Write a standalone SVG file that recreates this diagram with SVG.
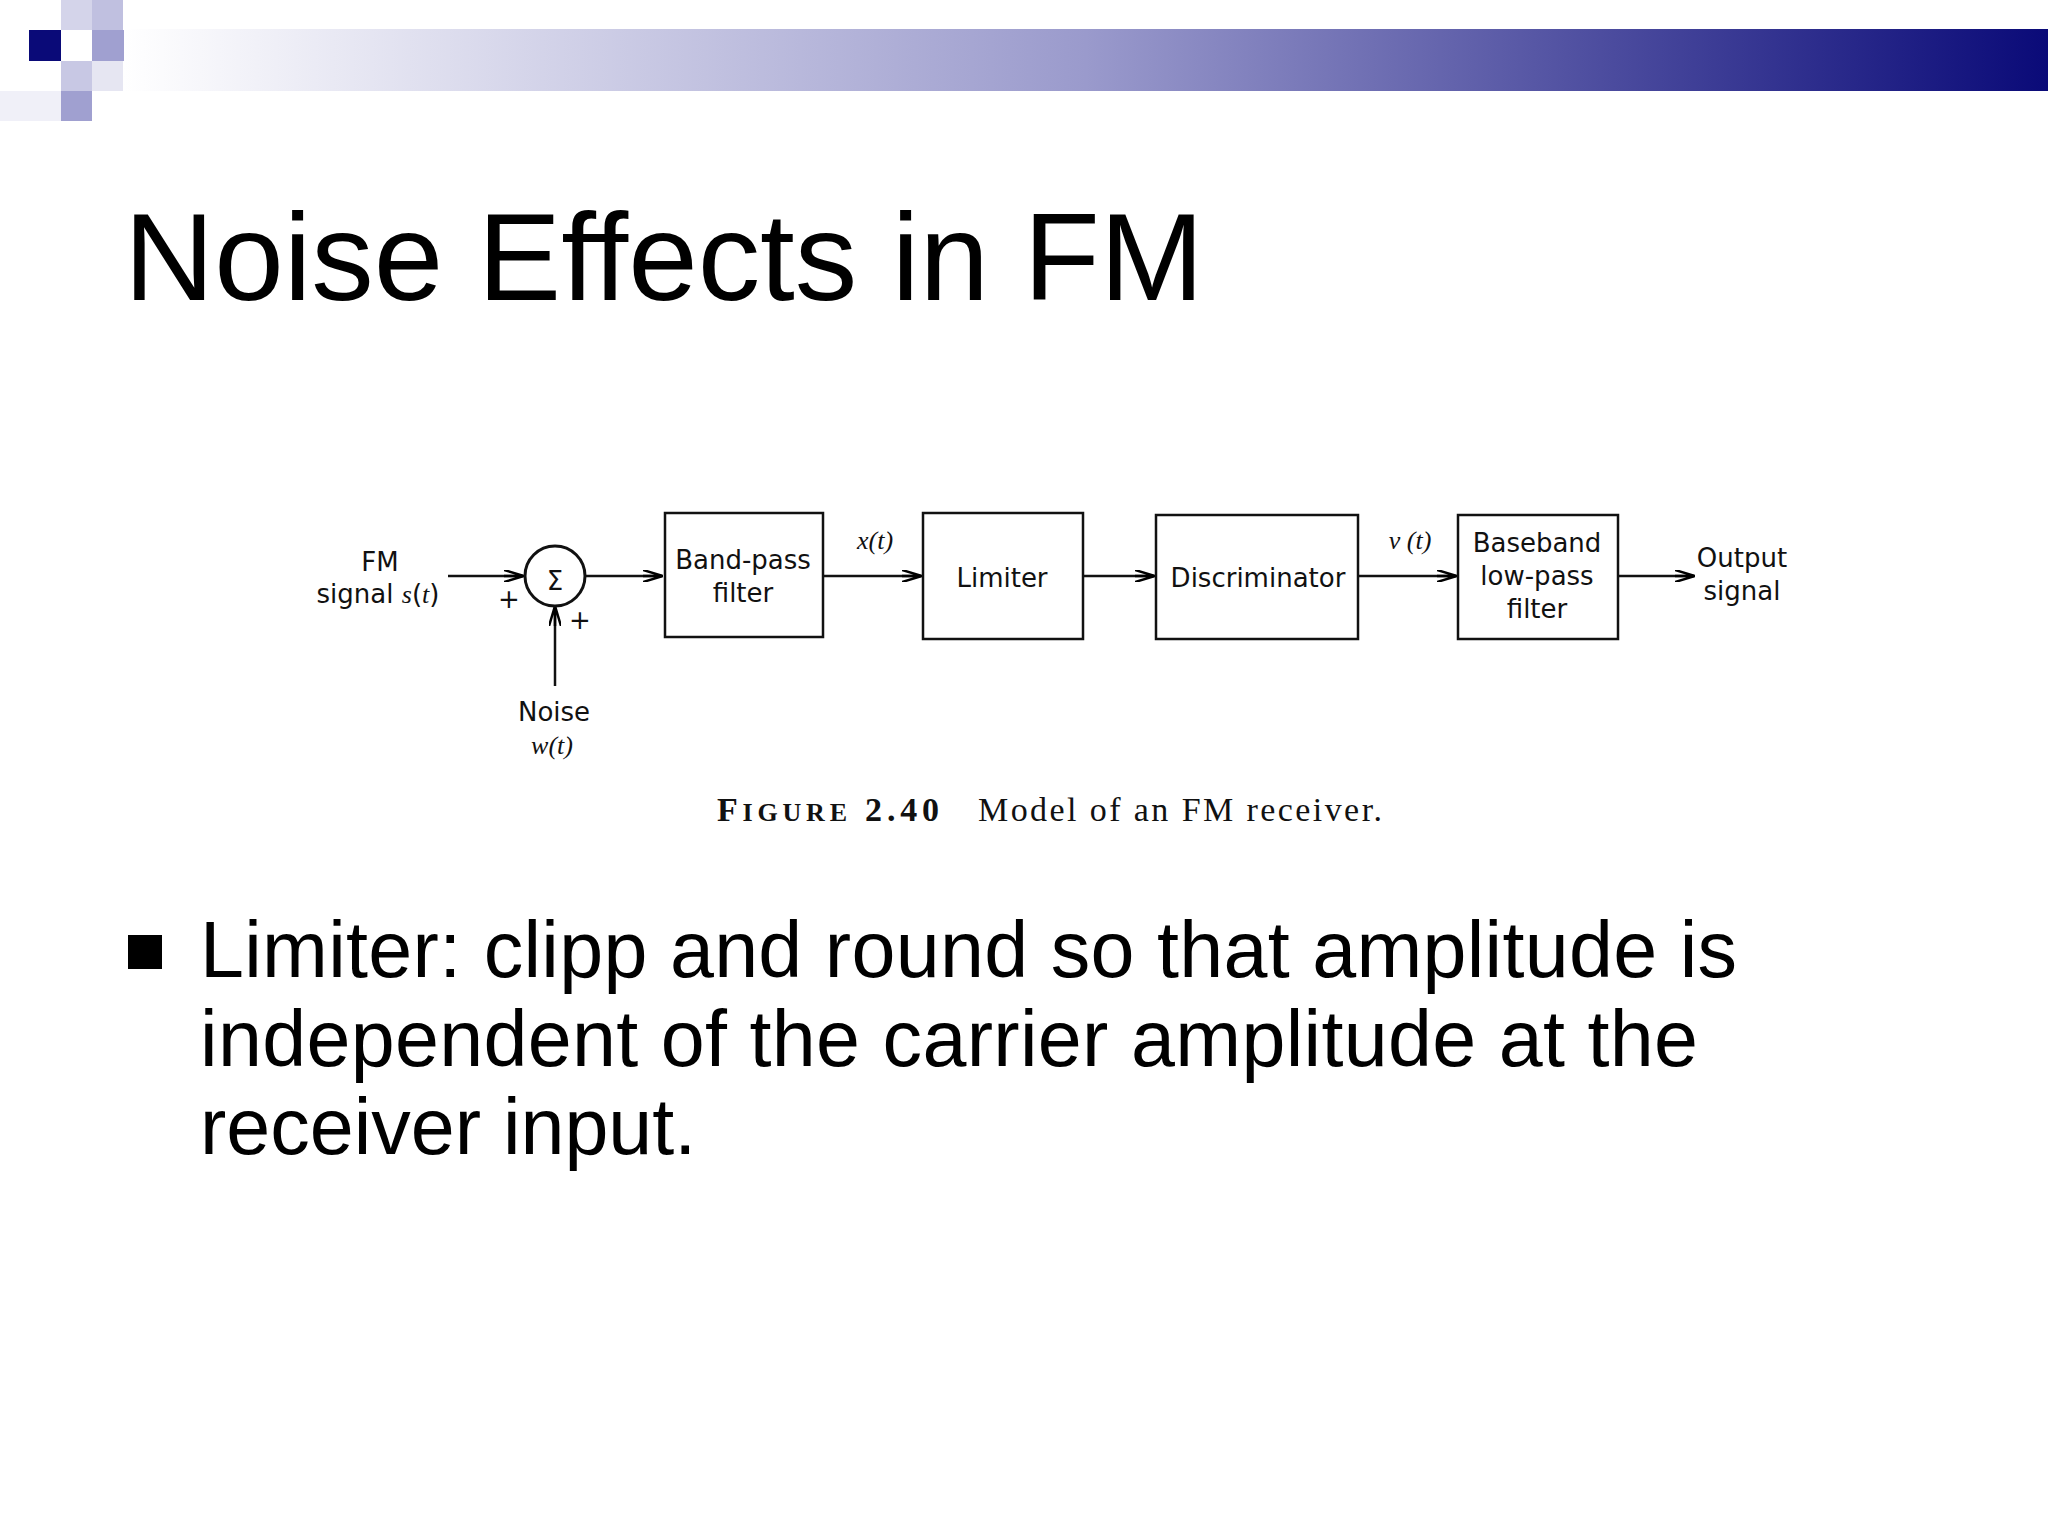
<svg xmlns="http://www.w3.org/2000/svg" width="2048" height="1536" viewBox="0 0 2048 1536">
<defs>
<linearGradient id="bar" x1="0" x2="1" y1="0" y2="0">
<stop offset="0" stop-color="#ffffff"/><stop offset="0.5" stop-color="#9a9acc"/><stop offset="1" stop-color="#0a0a78"/>
</linearGradient>
<marker id="ah" viewBox="0 0 20 12" refX="19" refY="6" markerWidth="20" markerHeight="12" markerUnits="userSpaceOnUse" orient="auto">
<path d="M0,0 L20,6 L0,12 M0,6 L20,6" fill="none" stroke="#000" stroke-width="2.5"/>
</marker>
<style>
.d{font-family:"DejaVu Sans","Liberation Sans",sans-serif;font-size:26px;text-anchor:middle;fill:#111}
.i{font-family:"Liberation Serif",serif;font-style:italic}
.box{fill:#fff;stroke:#111;stroke-width:2.5}
.ln{stroke:#111;stroke-width:2.5;fill:none;marker-end:url(#ah)}
</style>
</defs>
<rect width="2048" height="1536" fill="#fff"/>
<rect x="124" y="29" width="1924" height="62" fill="url(#bar)"/>
<g>
<rect x="61" y="0" width="31" height="30" fill="#d4d4ea"/>
<rect x="92" y="0" width="31" height="30" fill="#c0c0e0"/>
<rect x="29" y="30" width="32" height="31" fill="#0a0a78"/>
<rect x="92" y="30" width="32" height="31" fill="#a0a0d0"/>
<rect x="61" y="61" width="31" height="30" fill="#c8c8e4"/>
<rect x="92" y="61" width="31" height="30" fill="#e6e6f2"/>
<rect x="61" y="91" width="31" height="30" fill="#a0a0d0"/>
<rect x="0" y="91" width="61" height="30" fill="#f0f0f8"/>
</g>
<text x="124" y="300" font-family="Liberation Sans,Arial,sans-serif" font-size="125" textLength="1080" fill="#000">Noise Effects in FM</text>
<g id="connectors">
<line class="ln" x1="448" y1="576" x2="523" y2="576"/>
<line class="ln" x1="586" y1="576" x2="662" y2="576"/>
<line class="ln" x1="555" y1="686" x2="555" y2="607"/>
<line class="ln" x1="823" y1="576" x2="921" y2="576"/>
<line class="ln" x1="1083" y1="576" x2="1154" y2="576"/>
<line class="ln" x1="1358" y1="576" x2="1456" y2="576"/>
<line class="ln" x1="1618" y1="576" x2="1694" y2="576"/>
</g>
<g id="input"><text class="d" x="380" y="571">FM</text><text class="d" x="378" y="603">signal <tspan class="i">s</tspan>(<tspan class="i">t</tspan>)</text></g>
<g id="sum"><circle cx="555" cy="576" r="30" fill="#fff" stroke="#111" stroke-width="3"/><text class="d" x="555" y="590" font-size="36">Σ</text>
<text class="d" x="509" y="608">+</text><text class="d" x="580" y="629">+</text></g>
<g id="noise"><text class="d" x="554" y="721">Noise</text><text class="d i" x="552" y="754">w(t)</text></g>
<g id="bpf"><rect class="box" x="665" y="513" width="158" height="124"/><text class="d" x="743" y="569">Band-pass</text><text class="d" x="743" y="602">filter</text></g>
<text class="d i" x="875" y="549">x(t)</text>
<g id="limiter"><rect class="box" x="923" y="513" width="160" height="126"/><text class="d" x="1002" y="587">Limiter</text></g>
<g id="disc"><rect class="box" x="1156" y="515" width="202" height="124"/><text class="d" x="1258" y="587">Discriminator</text></g>
<text class="d i" x="1410" y="549">v (t)</text>
<g id="lpf"><rect class="box" x="1458" y="515" width="160" height="124"/><text class="d" x="1537" y="552">Baseband</text><text class="d" x="1537" y="585">low-pass</text><text class="d" x="1537" y="618">filter</text></g>
<g id="output"><text class="d" x="1742" y="567">Output</text><text class="d" x="1742" y="600">signal</text></g>
<text x="717" y="821" font-family="Liberation Serif,serif" font-size="34" font-weight="bold" fill="#111" textLength="222">F<tspan font-size="26">IGURE</tspan> 2.40</text>
<text x="978" y="821" font-family="Liberation Serif,serif" font-size="34" fill="#111" textLength="404">Model of an FM receiver.</text>
<rect x="128" y="935" width="34" height="34" fill="#000"/>
<g font-family="Liberation Sans,Arial,sans-serif" font-size="79" fill="#000">
<text x="200" y="977" textLength="1537">Limiter: clipp and round so that amplitude is</text>
<text x="200" y="1066" textLength="1498">independent of the carrier amplitude at the</text>
<text x="200" y="1154">receiver input.</text>
</g>
</svg>
